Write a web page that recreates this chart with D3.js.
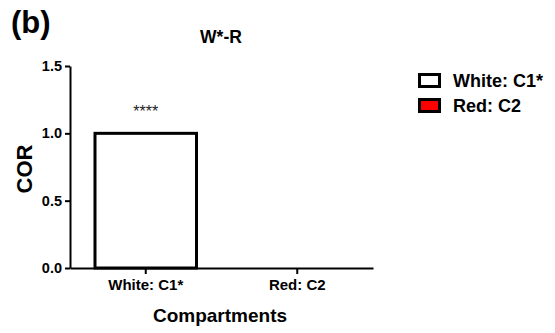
<!DOCTYPE html>
<html>
<head>
<meta charset="utf-8">
<script src="https://cdn.jsdelivr.net/npm/d3@7"></script>
<style>
  body { margin: 0; background: #fff; }
  text { font-family: "Liberation Sans", Arial, sans-serif; }
</style>
</head>
<body>
<svg id="chart" width="555" height="333"></svg>
<script>
// chart data
const categories = ['White: C1*', 'Red: C2'];
const values = [1.0, 0.0];
const colors = ['#ffffff', '#ff0000'];
const yTicks = [0.0, 0.5, 1.0, 1.5];
const significance = ['****', ''];

const svg = d3.select('#chart');

// plot area
const plotLeft = 70, plotRight = 373, plotTop = 66, plotBottom = 268;

const x = d3.scaleBand()
  .domain(categories)
  .range([plotLeft, plotRight])
  .paddingInner(0.33)
  .paddingOuter(0.165);

const y = d3.scaleLinear()
  .domain([0, 1.5])
  .range([plotBottom, plotTop]);

// bars
svg.selectAll('.bar')
  .data(categories)
  .enter()
  .append('rect')
  .attr('class', 'bar')
  .attr('x', d => x(d))
  .attr('y', (d, i) => y(values[i]))
  .attr('width', x.bandwidth())
  .attr('height', (d, i) => y(0) - y(values[i]))
  .attr('fill', (d, i) => colors[i])
  .attr('stroke', (d, i) => values[i] > 0 ? '#000' : 'none')
  .attr('stroke-width', 3);

// significance stars
svg.selectAll('.star')
  .data(categories)
  .enter()
  .append('text')
  .attr('x', d => x(d) + x.bandwidth() / 2)
  .attr('y', (d, i) => y(values[i]) - 16)
  .attr('text-anchor', 'middle')
  .attr('font-size', '16px')
  .attr('fill', '#222')
  .text((d, i) => significance[i]);

// y axis
const yAxis = svg.append('g')
  .attr('transform', `translate(${plotLeft},0)`)
  .call(d3.axisLeft(y).tickValues(yTicks).tickFormat(d3.format('.1f')).tickSize(5).tickSizeOuter(0));
yAxis.select('.domain').attr('stroke-width', 2);
yAxis.selectAll('.tick line').attr('stroke-width', 2);
yAxis.selectAll('.tick text')
  .attr('font-family', '"Liberation Sans", Arial, sans-serif')
  .attr('font-size', '14.5px')
  .attr('font-weight', 'bold')
  .attr('x', -8)
  .attr('fill', '#000');

// x axis
const xAxis = svg.append('g')
  .attr('transform', `translate(0,${plotBottom})`)
  .call(d3.axisBottom(x).tickSize(6).tickSizeOuter(0));
xAxis.select('.domain').attr('stroke-width', 2);
xAxis.selectAll('.tick line').attr('stroke-width', 2);
xAxis.selectAll('.tick text')
  .attr('font-family', '"Liberation Sans", Arial, sans-serif')
  .attr('font-size', '15px')
  .attr('font-weight', 'bold')
  .attr('y', 11)
  .attr('fill', '#000');

// axis titles
svg.append('text')
  .attr('x', 220)
  .attr('y', 322)
  .attr('text-anchor', 'middle')
  .attr('font-size', '19px')
  .attr('font-weight', 'bold')
  .text('Compartments');

svg.append('text')
  .attr('transform', `translate(32,169) rotate(-90)`)
  .attr('text-anchor', 'middle')
  .attr('font-size', '22px')
  .attr('font-weight', 'bold')
  .text('COR');

// title
svg.append('text')
  .attr('x', 221)
  .attr('y', 43)
  .attr('text-anchor', 'middle')
  .attr('font-size', '17.5px')
  .attr('font-weight', 'bold')
  .text('W*-R');

// panel label
svg.append('text')
  .attr('x', 11)
  .attr('y', 33)
  .attr('font-size', '31px')
  .attr('font-weight', 'bold')
  .text('(b)');

// legend
const legend = svg.append('g')
  .attr('transform', 'translate(419.5,74.5)');

legend.selectAll('.legend-item')
  .data(categories)
  .enter()
  .append('g')
  .attr('class', 'legend-item')
  .attr('transform', (d, i) => `translate(0, ${i * 25})`)
  .each(function (d, i) {
    const item = d3.select(this);
    item.append('rect')
      .attr('width', 20)
      .attr('height', 12)
      .attr('fill', colors[i])
      .attr('stroke', '#000')
      .attr('stroke-width', 3);
    item.append('text')
      .attr('x', 33.5)
      .attr('y', 12.5)
      .attr('font-size', '18px')
      .attr('font-weight', 'bold')
      .text(d);
  });
</script>
</body>
</html>
